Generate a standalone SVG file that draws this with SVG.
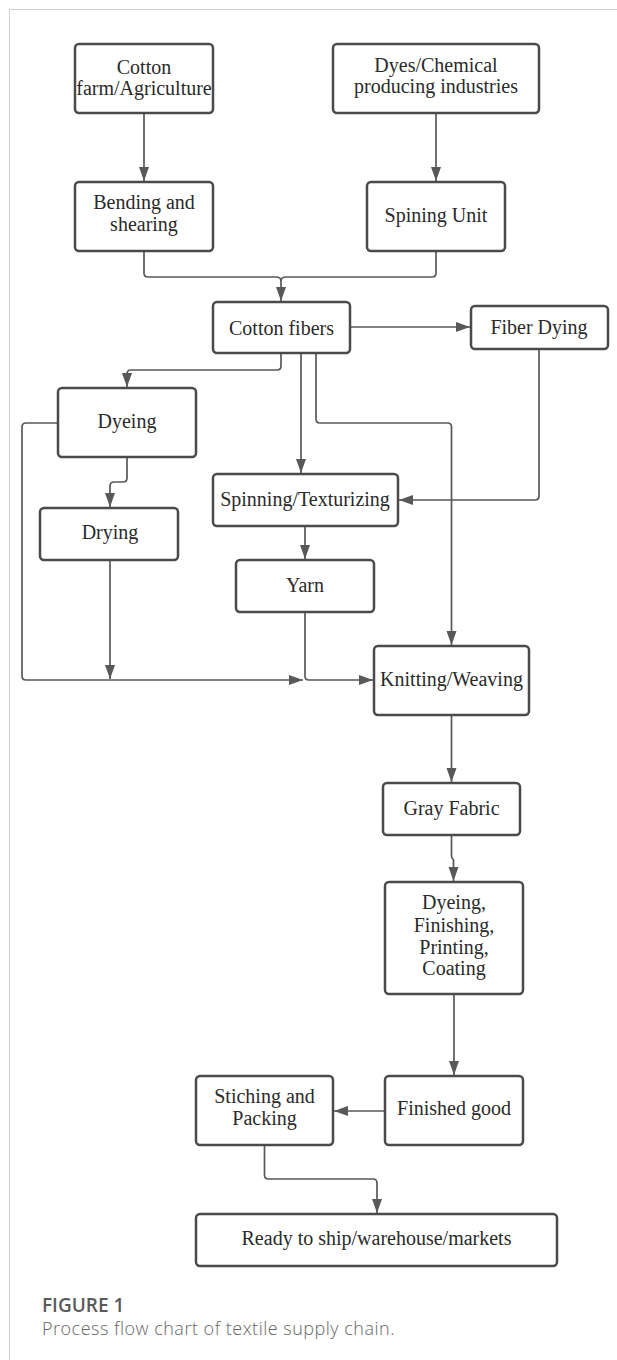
<svg xmlns="http://www.w3.org/2000/svg" width="617" height="1360" viewBox="0 0 617 1360">
<style>
.box{fill:#fff;stroke:#4a4a4a;stroke-width:2.5}
.lbl{font-family:"Liberation Serif",serif;font-size:20px;fill:#2a2a2a;text-anchor:middle}
.con{fill:none;stroke:#585858;stroke-width:1.7}
.cap1{font-family:"Open Sans",sans-serif;font-size:19px;font-weight:600;fill:#5a5a5a}
.cap2{font-family:"Open Sans",sans-serif;font-size:18px;font-weight:300;fill:#666;letter-spacing:0.5px}
</style>
<defs>
<marker id="ah" markerUnits="userSpaceOnUse" markerWidth="15" markerHeight="11" refX="14" refY="5.5" orient="auto">
<path d="M0,0.5 L14,5.5 L0,10.5 Z" fill="#585858"/>
</marker>
</defs>
<rect width="617" height="1360" fill="#fff"/>
<path d="M617,9.5 H9.5 V1360" fill="none" stroke="#d0d0d0" stroke-width="1"/>

<g id="connectors">
<path class="con" d="M144,113 V181" marker-end="url(#ah)"/>
<path class="con" d="M436,113 V181" marker-end="url(#ah)"/>
<path class="con" d="M144,251 V273 Q144,277 148,277 H276 Q281,277 281,281 V301" marker-end="url(#ah)"/>
<path class="con" d="M436,251 V273 Q436,277 432,277 H286 Q281,277 281,281"/>
<path class="con" d="M350,327 H470" marker-end="url(#ah)"/>
<path class="con" d="M281,353 V366 Q281,370 277,370 H131 Q127,370 127,374 V387" marker-end="url(#ah)"/>
<path class="con" d="M301,353 V473" marker-end="url(#ah)"/>
<path class="con" d="M316,353 V419 Q316,423 320,423 H447.5 Q451.5,423 451.5,427 V645" marker-end="url(#ah)"/>
<path class="con" d="M539,349 V496 Q539,500 535,500 H399" marker-end="url(#ah)"/>
<path class="con" d="M127,457 V478 Q127,482 123,482 H114 Q110,482 110,486 V507" marker-end="url(#ah)"/>
<path class="con" d="M58,423 H26 Q22,423 22,427 V676 Q22,680 26,680 H303" marker-end="url(#ah)"/>
<path class="con" d="M110,560 V679" marker-end="url(#ah)"/>
<path class="con" d="M305,526 V559" marker-end="url(#ah)"/>
<path class="con" d="M305,612 V676 Q305,680 309,680 H373" marker-end="url(#ah)"/>
<path class="con" d="M451.5,715 V782" marker-end="url(#ah)"/>
<path class="con" d="M451.5,835 V856 Q451.5,858 453.5,860 V881" marker-end="url(#ah)"/>
<path class="con" d="M454,994 V1075" marker-end="url(#ah)"/>
<path class="con" d="M385,1111 H334" marker-end="url(#ah)"/>
<path class="con" d="M264.5,1145 V1175 Q264.5,1179 268.5,1179 H373 Q377,1179 377,1183 V1213" marker-end="url(#ah)"/>
</g>

<g id="n-farm"><rect class="box" x="75" y="44" width="138" height="69" rx="4"/><text class="lbl" x="144" y="74">Cotton</text><text class="lbl" x="144" y="95">farm/Agriculture</text></g>
<g id="n-dyes"><rect class="box" x="333" y="44" width="206" height="69" rx="4"/><text class="lbl" x="436" y="72">Dyes/Chemical</text><text class="lbl" x="436" y="93">producing industries</text></g>
<g id="n-bending"><rect class="box" x="75" y="182" width="138" height="69" rx="4"/><text class="lbl" x="144" y="209">Bending and</text><text class="lbl" x="144" y="231">shearing</text></g>
<g id="n-spining"><rect class="box" x="367" y="182" width="138" height="69" rx="4"/><text class="lbl" x="436" y="222">Spining Unit</text></g>
<g id="n-cotton"><rect class="box" x="213" y="302" width="137" height="51" rx="4"/><text class="lbl" x="281.5" y="335">Cotton fibers</text></g>
<g id="n-fiberdying"><rect class="box" x="471" y="306" width="137" height="43" rx="4"/><text class="lbl" x="539" y="334">Fiber Dying</text></g>
<g id="n-dyeing"><rect class="box" x="58" y="388" width="138" height="69" rx="4"/><text class="lbl" x="127" y="428">Dyeing</text></g>
<g id="n-drying"><rect class="box" x="40" y="508" width="138" height="52" rx="4"/><text class="lbl" x="110" y="539">Drying</text></g>
<g id="n-spinning"><rect class="box" x="213" y="474" width="185" height="52" rx="4"/><text class="lbl" x="305" y="506">Spinning/Texturizing</text></g>
<g id="n-yarn"><rect class="box" x="236" y="560" width="138" height="52" rx="4"/><text class="lbl" x="305" y="592">Yarn</text></g>
<g id="n-knitting"><rect class="box" x="374" y="646" width="155" height="69" rx="4"/><text class="lbl" x="451.5" y="686">Knitting/Weaving</text></g>
<g id="n-gray"><rect class="box" x="383" y="783" width="137" height="52" rx="4"/><text class="lbl" x="451.5" y="815">Gray Fabric</text></g>
<g id="n-finishing"><rect class="box" x="385" y="882" width="138" height="112" rx="4"/><text class="lbl" x="454" y="909">Dyeing,</text><text class="lbl" x="454" y="932">Finishing,</text><text class="lbl" x="454" y="954">Printing,</text><text class="lbl" x="454" y="975">Coating</text></g>
<g id="n-finished"><rect class="box" x="385" y="1076" width="138" height="69" rx="4"/><text class="lbl" x="454" y="1115">Finished good</text></g>
<g id="n-stiching"><rect class="box" x="196" y="1076" width="137" height="69" rx="4"/><text class="lbl" x="264.5" y="1103">Stiching and</text><text class="lbl" x="264.5" y="1125">Packing</text></g>
<g id="n-ready"><rect class="box" x="196" y="1214" width="361" height="52" rx="4"/><text class="lbl" x="376.5" y="1245">Ready to ship/warehouse/markets</text></g>

<g id="caption">
<text class="cap1" x="42" y="1312">FIGURE 1</text>
<text class="cap2" x="42" y="1335">Process flow chart of textile supply chain.</text>
</g>
</svg>
